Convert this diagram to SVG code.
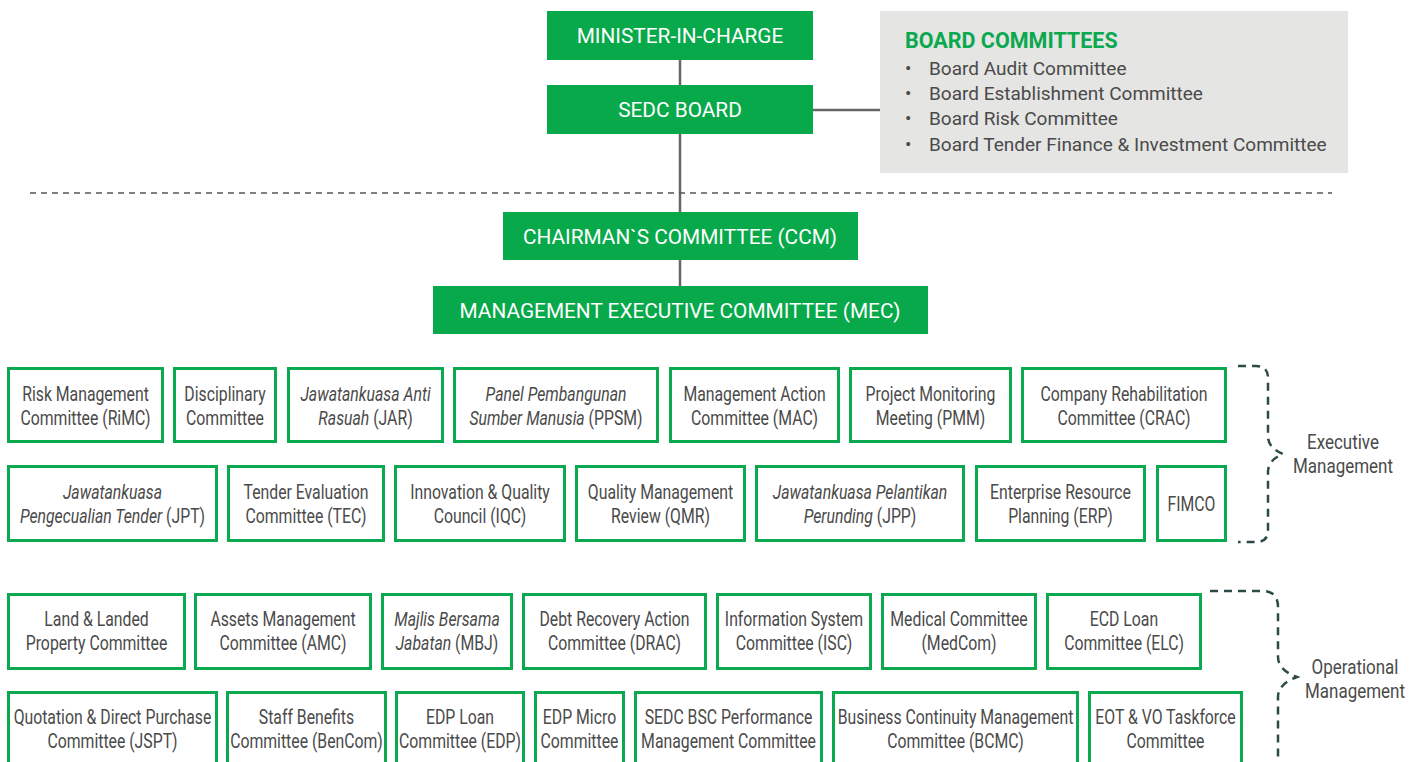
<svg xmlns="http://www.w3.org/2000/svg" width="1418" height="762" viewBox="0 0 1418 762">
<style>
.top rect{fill:#08a94b}
.top text{fill:#fff;font-family:Roboto,"Liberation Sans",sans-serif;font-size:20.8px;text-anchor:middle}
.box rect{fill:#fff;stroke:#0aa84f;stroke-width:3}
.box text,.lbl{fill:#4a4a4a;font-family:Roboto,"Liberation Sans",sans-serif;font-size:19.5px;text-anchor:middle}
.i{font-style:italic}
.conn line{stroke:#666;stroke-width:2.5}
.brace{fill:none;stroke:#2c4a47;stroke-width:2.5;stroke-dasharray:8 6}
.bc text{fill:#4a4a4a;font-family:Roboto,"Liberation Sans",sans-serif;font-size:19px}
</style>
<g id="connectors" class="conn">
<line x1="680" y1="60" x2="680" y2="85"/>
<line x1="680" y1="134" x2="680" y2="212"/>
<line x1="813" y1="110" x2="880" y2="110"/>
<line x1="680" y1="260" x2="680" y2="286"/>
<line x1="30" y1="193" x2="1332" y2="193" style="stroke:#555;stroke-width:1.5;stroke-dasharray:6 5"/>
</g>
<g id="minister" class="top"><rect x="547" y="11" width="266" height="49"/><text x="680" y="43">MINISTER-IN-CHARGE</text></g>
<g id="sedc-board" class="top"><rect x="547" y="85" width="266" height="49"/><text x="680" y="117">SEDC BOARD</text></g>
<g id="ccm" class="top"><rect x="503" y="212" width="355" height="48"/><text x="680" y="244">CHAIRMAN`S COMMITTEE (CCM)</text></g>
<g id="mec" class="top"><rect x="433" y="286" width="495" height="48"/><text x="680" y="318">MANAGEMENT EXECUTIVE COMMITTEE (MEC)</text></g>
<g id="board-committees" class="bc">
<rect x="880" y="11" width="468" height="162" fill="#e5e5e3"/>
<text x="905" y="48" style="fill:#0aa84f;font-weight:bold;font-size:21.5px">BOARD COMMITTEES</text>
<text x="905" y="75">•</text><text x="929" y="75">Board Audit Committee</text>
<text x="905" y="100">•</text><text x="929" y="100">Board Establishment Committee</text>
<text x="905" y="125">•</text><text x="929" y="125">Board Risk Committee</text>
<text x="905" y="151">•</text><text x="929" y="151">Board Tender Finance &amp; Investment Committee</text>
</g>
<!-- Executive row 1 -->
<g id="rimc" class="box"><rect x="8.5" y="368.5" width="154" height="73"/><g transform="translate(85.5 0) scale(.81 1)"><text x="0" y="401">Risk Management</text><text x="0" y="425">Committee (RiMC)</text></g></g>
<g id="disciplinary" class="box"><rect x="174.5" y="368.5" width="101" height="73"/><g transform="translate(225 0) scale(.81 1)"><text x="0" y="401">Disciplinary</text><text x="0" y="425">Committee</text></g></g>
<g id="jar" class="box"><rect x="288.5" y="368.5" width="154" height="73"/><g transform="translate(365.5 0) scale(.81 1)"><text x="0" y="401" class="i">Jawatankuasa Anti</text><text x="0" y="425"><tspan class="i">Rasuah</tspan> (JAR)</text></g></g>
<g id="ppsm" class="box"><rect x="454.5" y="368.5" width="203" height="73"/><g transform="translate(556 0) scale(.81 1)"><text x="0" y="401" class="i">Panel Pembangunan</text><text x="0" y="425"><tspan class="i">Sumber Manusia</tspan> (PPSM)</text></g></g>
<g id="mac" class="box"><rect x="670.5" y="368.5" width="168" height="73"/><g transform="translate(754.5 0) scale(.81 1)"><text x="0" y="401">Management Action</text><text x="0" y="425">Committee (MAC)</text></g></g>
<g id="pmm" class="box"><rect x="850.5" y="368.5" width="160" height="73"/><g transform="translate(930.5 0) scale(.81 1)"><text x="0" y="401">Project Monitoring</text><text x="0" y="425">Meeting (PMM)</text></g></g>
<g id="crac" class="box"><rect x="1022.5" y="368.5" width="203" height="73"/><g transform="translate(1124 0) scale(.81 1)"><text x="0" y="401">Company Rehabilitation</text><text x="0" y="425">Committee (CRAC)</text></g></g>
<!-- Executive row 2 -->
<g id="jpt" class="box"><rect x="8.5" y="466.5" width="208" height="74"/><g transform="translate(112.5 0) scale(.81 1)"><text x="0" y="499" class="i">Jawatankuasa</text><text x="0" y="523"><tspan class="i">Pengecualian Tender</tspan> (JPT)</text></g></g>
<g id="tec" class="box"><rect x="228.5" y="466.5" width="155" height="74"/><g transform="translate(306 0) scale(.81 1)"><text x="0" y="499">Tender Evaluation</text><text x="0" y="523">Committee (TEC)</text></g></g>
<g id="iqc" class="box"><rect x="395.5" y="466.5" width="169" height="74"/><g transform="translate(480 0) scale(.81 1)"><text x="0" y="499">Innovation &amp; Quality</text><text x="0" y="523">Council (IQC)</text></g></g>
<g id="qmr" class="box"><rect x="576.5" y="466.5" width="168" height="74"/><g transform="translate(660.5 0) scale(.81 1)"><text x="0" y="499">Quality Management</text><text x="0" y="523">Review (QMR)</text></g></g>
<g id="jpp" class="box"><rect x="756.5" y="466.5" width="207" height="74"/><g transform="translate(860 0) scale(.81 1)"><text x="0" y="499" class="i">Jawatankuasa Pelantikan</text><text x="0" y="523"><tspan class="i">Perunding</tspan> (JPP)</text></g></g>
<g id="erp" class="box"><rect x="976.5" y="466.5" width="168" height="74"/><g transform="translate(1060.5 0) scale(.81 1)"><text x="0" y="499">Enterprise Resource</text><text x="0" y="523">Planning (ERP)</text></g></g>
<g id="fimco" class="box"><rect x="1157.5" y="466.5" width="68" height="74"/><g transform="translate(1191.5 0) scale(.81 1)"><text x="0" y="511">FIMCO</text></g></g>
<!-- Operational row 1 -->
<g id="land" class="box"><rect x="8.5" y="594.5" width="176" height="74"/><g transform="translate(96.5 0) scale(.81 1)"><text x="0" y="626">Land &amp; Landed</text><text x="0" y="650">Property Committee</text></g></g>
<g id="amc" class="box"><rect x="195.5" y="594.5" width="175" height="74"/><g transform="translate(283 0) scale(.81 1)"><text x="0" y="626">Assets Management</text><text x="0" y="650">Committee (AMC)</text></g></g>
<g id="mbj" class="box"><rect x="382.5" y="594.5" width="129" height="74"/><g transform="translate(447 0) scale(.81 1)"><text x="0" y="626" class="i">Majlis Bersama</text><text x="0" y="650"><tspan class="i">Jabatan</tspan> (MBJ)</text></g></g>
<g id="drac" class="box"><rect x="523.5" y="594.5" width="182" height="74"/><g transform="translate(614.5 0) scale(.81 1)"><text x="0" y="626">Debt Recovery Action</text><text x="0" y="650">Committee (DRAC)</text></g></g>
<g id="isc" class="box"><rect x="717.5" y="594.5" width="153" height="74"/><g transform="translate(794 0) scale(.81 1)"><text x="0" y="626">Information System</text><text x="0" y="650">Committee (ISC)</text></g></g>
<g id="medcom" class="box"><rect x="882.5" y="594.5" width="153" height="74"/><g transform="translate(959 0) scale(.81 1)"><text x="0" y="626">Medical Committee</text><text x="0" y="650">(MedCom)</text></g></g>
<g id="elc" class="box"><rect x="1047.5" y="594.5" width="153" height="74"/><g transform="translate(1124 0) scale(.81 1)"><text x="0" y="626">ECD Loan</text><text x="0" y="650">Committee (ELC)</text></g></g>
<!-- Operational row 2 -->
<g id="jspt" class="box"><rect x="8.5" y="692.5" width="208" height="76"/><g transform="translate(112.5 0) scale(.81 1)"><text x="0" y="724">Quotation &amp; Direct Purchase</text><text x="0" y="748">Committee (JSPT)</text></g></g>
<g id="bencom" class="box"><rect x="227.5" y="692.5" width="158" height="76"/><g transform="translate(306.5 0) scale(.81 1)"><text x="0" y="724">Staff Benefits</text><text x="0" y="748">Committee (BenCom)</text></g></g>
<g id="edp-loan" class="box"><rect x="396.5" y="692.5" width="127" height="76"/><g transform="translate(460 0) scale(.81 1)"><text x="0" y="724">EDP Loan</text><text x="0" y="748">Committee (EDP)</text></g></g>
<g id="edp-micro" class="box"><rect x="535.5" y="692.5" width="88" height="76"/><g transform="translate(579.5 0) scale(.81 1)"><text x="0" y="724">EDP Micro</text><text x="0" y="748">Committee</text></g></g>
<g id="bsc" class="box"><rect x="635.5" y="692.5" width="186" height="76"/><g transform="translate(728.5 0) scale(.81 1)"><text x="0" y="724">SEDC BSC Performance</text><text x="0" y="748">Management Committee</text></g></g>
<g id="bcmc" class="box"><rect x="833.5" y="692.5" width="244" height="76"/><g transform="translate(955.5 0) scale(.81 1)"><text x="0" y="724">Business Continuity Management</text><text x="0" y="748">Committee (BCMC)</text></g></g>
<g id="eot" class="box"><rect x="1089.5" y="692.5" width="152" height="76"/><g transform="translate(1165.5 0) scale(.81 1)"><text x="0" y="724">EOT &amp; VO Taskforce</text><text x="0" y="748">Committee</text></g></g>
<!-- Braces -->
<g id="executive-management">
<path class="brace" d="M1238,366 H1256 Q1268,366 1268,378 V436 Q1268,448 1283,454 Q1268,460 1268,472 V530 Q1268,542 1256,542 H1238"/>
<g transform="translate(1343 0) scale(.87 1)"><text class="lbl" x="0" y="449">Executive</text><text class="lbl" x="0" y="473">Management</text></g>
</g>
<g id="operational-management">
<path class="brace" d="M1210,591 H1262 Q1278,591 1278,607 V657 Q1278,670 1297,677 Q1278,684 1278,697 V770"/>
<g transform="translate(1355 0) scale(.87 1)"><text class="lbl" x="0" y="674">Operational</text><text class="lbl" x="0" y="698">Management</text></g>
</g>
</svg>
